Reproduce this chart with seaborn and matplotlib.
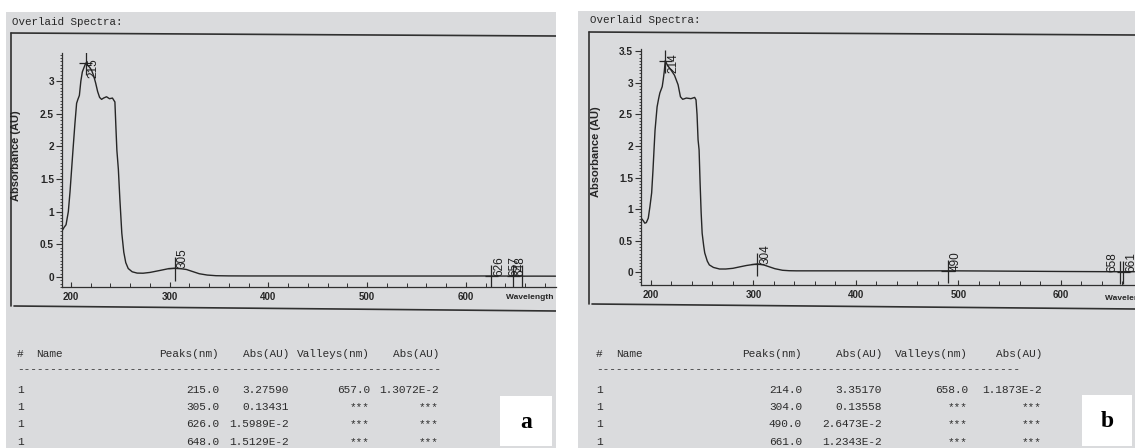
import matplotlib
matplotlib.use("Agg")
import matplotlib.pyplot as plt
import seaborn as sns
from matplotlib.patches import Rectangle
from matplotlib.ticker import MultipleLocator, FuncFormatter

# ---- spectrum a ----
wl_a = [191.5, 193, 195, 197.3, 199, 200.5, 202, 204, 205.7, 207, 208.5, 210, 211.5,
        213, 215, 217, 219, 221, 223, 225, 227, 229, 231, 233, 236, 239, 242, 244.5,
        245.5, 246.5, 248, 249.5, 251.5, 253.5, 255.5, 258, 262, 267, 273, 280, 290,
        298, 305, 311, 317, 323, 330, 338, 347, 360, 380, 420, 480, 540, 600, 626,
        637, 648, 657, 670, 691]
abs_a = [0.72, 0.76, 0.80, 1.00, 1.30, 1.62, 1.94, 2.35, 2.66, 2.72, 2.78, 3.00, 3.14,
         3.20, 3.2759, 3.24, 3.21, 3.16, 3.08, 2.97, 2.84, 2.75, 2.72, 2.74, 2.76, 2.73,
         2.74, 2.68, 2.30, 1.94, 1.65, 1.20, 0.67, 0.38, 0.22, 0.13, 0.08, 0.06, 0.058,
         0.07, 0.10, 0.125, 0.13431, 0.128, 0.115, 0.085, 0.05, 0.03, 0.02, 0.017,
         0.016, 0.016, 0.015, 0.015, 0.015, 0.015989, 0.0145, 0.015129, 0.013072,
         0.0135, 0.013]
peaks_a = [215.0, 305.0, 626.0, 648.0]
peak_abs_a = [3.27590, 0.13431, 0.015989, 0.015129]
valleys_a = [657.0]
valley_abs_a = [0.013072]

# ---- spectrum b ----
wl_b = [191, 192.5, 194, 195.5, 197.4, 199, 200.7, 202, 203, 204, 206, 207.5, 208.7,
        211, 212, 213, 214, 216, 218.4, 221, 223, 226.5, 228.8, 231, 234.6, 239, 242.7,
        244, 245, 246, 247, 248, 249, 250, 251.5, 252.5, 255, 257, 261, 267, 273, 280,
        287, 293, 299, 304, 310, 315.5, 321, 328.4, 335, 342, 355, 380, 420, 460, 490,
        520, 560, 600, 640, 658, 661, 672]
abs_b = [0.85, 0.82, 0.78, 0.79, 0.86, 1.04, 1.26, 1.62, 1.94, 2.25, 2.62, 2.75, 2.84,
         2.94, 3.05, 3.18, 3.3517, 3.28, 3.23, 3.17, 3.12, 2.97, 2.78, 2.74, 2.76, 2.75,
         2.77, 2.73, 2.50, 2.10, 1.94, 1.41, 0.95, 0.62, 0.42, 0.31, 0.18, 0.12, 0.08,
         0.055, 0.055, 0.066, 0.09, 0.11, 0.125, 0.13558, 0.12, 0.09, 0.06, 0.035,
         0.028, 0.026, 0.026, 0.026, 0.026, 0.026, 0.026473, 0.024, 0.02, 0.016,
         0.013, 0.011873, 0.012343, 0.012]
peaks_b = [214.0, 304.0, 490.0, 661.0]
peak_abs_b = [3.35170, 0.13558, 0.026473, 0.012343]
valleys_b = [658.0]
valley_abs_b = [0.011873]

table_header = ["#", "Name", "Peaks(nm)", "Abs(AU)", "Valleys(nm)", "Abs(AU)"]
sample_id = "1"

W, H = 1135, 448
PAPER = "#dadbdd"
INK = "#262626"
MONO = ["Liberation Mono", "DejaVu Sans Mono"]
NARROW = ["Liberation Sans Narrow", "Liberation Sans", "DejaVu Sans"]
SANS = ["Liberation Sans", "DejaVu Sans"]

sns.set_style("ticks")
plt.rcParams["font.family"] = NARROW

fig = plt.figure(figsize=(W / 100, H / 100), dpi=100, facecolor="white")


def px_axes(x0, y0, x1, y1, **kw):
    return fig.add_axes([x0 / W, 1 - y1 / H, (x1 - x0) / W, (y1 - y0) / H], **kw)


def fmt_abs(v):
    if v >= 0.1:
        return f"{v:.5f}"
    mant, exp = f"{v:.4E}".split("E")
    return f"{mant}E{int(exp)}"


def panel(px0, py0, px1, frame, ax_box, xlim, ylim, wl, ab, peaks, pabs, valleys, vabs,
          title_xy, ylab_xy, wlab_xy, cols, letter_box, letter):
    # paper sheet
    bg = px_axes(px0, py0, px1, H)
    bg.set_xlim(px0, px1)
    bg.set_ylim(H, py0)
    bg.set_facecolor(PAPER)
    bg.set_xticks([])
    bg.set_yticks([])
    for s in bg.spines.values():
        s.set_visible(False)
    bg.set_zorder(0)

    bg.text(*title_xy, "Overlaid Spectra:", family=MONO, fontsize=7.8, color=INK,
            ha="left", va="center", clip_on=True)
    (tl, tr, bl, br, lx) = frame
    bg.plot([lx, px1], [tl, tr], color="#303030", lw=1.2)
    bg.plot([lx, lx], [tl, bl], color="#303030", lw=1.2)
    bg.plot([lx + 3, px1], [bl, br], color="#303030", lw=1.2)

    bg.text(*ylab_xy, "Absorbance (AU)", family=NARROW, fontsize=8, color=INK,
            rotation=90, ha="center", va="center", fontweight="bold")
    bg.text(*wlab_xy, "Wavelength (nm)", family=NARROW, fontsize=6, color=INK,
            ha="left", va="center", clip_on=True, fontweight="bold")

    # peak / valley table
    c_hash, c_name, c_pk, c_pa, c_vl, c_va = cols
    hy, dy, rows = 354, 369, [390, 407, 424, 442]
    tkw = dict(family=MONO, fontsize=8, color="#2c2c2c", va="center", clip_on=True)
    bg.text(c_hash, hy, table_header[0], ha="left", **tkw)
    bg.text(c_name, hy, table_header[1], ha="left", **tkw)
    for cx, lab in zip([c_pk, c_pa, c_vl, c_va], table_header[2:]):
        bg.text(cx, hy, lab, ha="right", **tkw)
    bg.text(c_hash, dy, "-" * 64, ha="left", **tkw)
    for i, ry in enumerate(rows):
        bg.text(c_hash, ry, sample_id, ha="left", **tkw)
        bg.text(c_pk, ry, f"{peaks[i]:.1f}", ha="right", **tkw)
        bg.text(c_pa, ry, fmt_abs(pabs[i]), ha="right", **tkw)
        if i < len(valleys):
            bg.text(c_vl, ry, f"{valleys[i]:.1f}", ha="right", **tkw)
            bg.text(c_va, ry, fmt_abs(vabs[i]), ha="right", **tkw)
        else:
            bg.text(c_vl, ry, "***", ha="right", **tkw)
            bg.text(c_va, ry, "***", ha="right", **tkw)

    bx0, by0, bx1, by1 = letter_box
    bg.add_patch(Rectangle((bx0, by0), bx1 - bx0, by1 - by0, facecolor="white",
                           edgecolor="none", zorder=3))
    bg.text((bx0 + bx1) / 2, (by0 + by1) / 2 + 1, letter, family=["Liberation Serif"],
            fontsize=17, fontweight="bold", color="black", ha="center", va="center",
            zorder=4)

    # spectrum
    ax = px_axes(*ax_box)
    ax.set_zorder(1)
    ax.patch.set_alpha(0)
    sns.lineplot(x=wl, y=ab, ax=ax, color="#262626", linewidth=1.0, estimator=None)
    ax.set_xlim(*xlim)
    ax.set_ylim(*ylim)
    ax.set_xlabel("")
    ax.set_ylabel("")
    for s in ["top", "right"]:
        ax.spines[s].set_visible(False)
    for s in ["left", "bottom"]:
        ax.spines[s].set_color("#303030")
        ax.spines[s].set_linewidth(0.9)
    ax.xaxis.set_major_locator(MultipleLocator(100))
    ax.xaxis.set_minor_locator(MultipleLocator(20))
    ax.yaxis.set_major_locator(MultipleLocator(0.5))
    ax.yaxis.set_minor_locator(MultipleLocator(0.05))
    ax.yaxis.set_major_formatter(FuncFormatter(lambda v, p: f"{v:g}"))
    ax.tick_params(axis="x", which="major", direction="in", length=3.5, width=0.8,
                   labelsize=7, pad=3.5, colors="#303030", labelcolor=INK)
    ax.tick_params(axis="x", which="minor", direction="in", length=3, width=0.7,
                   colors="#303030")
    ax.tick_params(axis="y", which="major", direction="out", length=4.5, width=0.8,
                   labelsize=7.3, pad=1.2, colors="#303030", labelcolor=INK)
    ax.tick_params(axis="y", which="minor", direction="out", length=1.8, width=0.6,
                   colors="#303030")
    for t in ax.get_xticklabels() + ax.get_yticklabels():
        t.set_fontweight("bold")

    ytop = ylim[1]
    lkw = dict(color="#262626", lw=0.9)
    for nm, v in zip(peaks, pabs):
        ax.vlines(nm, v - 0.19, v + 0.17, **lkw)
        ax.hlines(v, nm - 6.5, nm + 6.5, **lkw)
        ax.annotate(f"{nm:.0f}", xy=(nm, min(v, ytop - 0.38)), xytext=(1.2, 0),
                    textcoords="offset points", rotation=90, ha="left", va="bottom",
                    family=SANS, fontsize=8.5, color="#1e1e1e")
    for nm, v in zip(valleys, vabs):
        ax.vlines(nm, v - 0.19, v + 0.17, **lkw)
        ax.annotate(f"{nm:.0f}", xy=(nm, min(v, ytop - 0.38)), xytext=(-1.2, 0),
                    textcoords="offset points", rotation=90, ha="right", va="bottom",
                    family=SANS, fontsize=8.5, color="#1e1e1e")
    return ax


panel(6, 12, 556, (33, 36, 306, 311, 11), (62, 53, 556, 287),
      (190.9, 691.4), (-0.153, 3.43), wl_a, abs_a, peaks_a, peak_abs_a,
      valleys_a, valley_abs_a, (12, 22), (16, 156), (506, 297),
      (17, 36, 219, 289, 370, 439), (500, 396, 552, 446), "a")

panel(578, 11, 1135, (32, 35, 304, 309, 589), (641, 49, 1135, 285),
      (190.3, 672.5), (-0.198, 3.536), wl_b, abs_b, peaks_b, peak_abs_b,
      valleys_b, valley_abs_b, (590, 20), (596, 152), (1105, 298),
      (596, 616, 802, 882, 968, 1042), (1082, 395, 1132, 446), "b")

fig.savefig("out.png", dpi=100, facecolor="white")
